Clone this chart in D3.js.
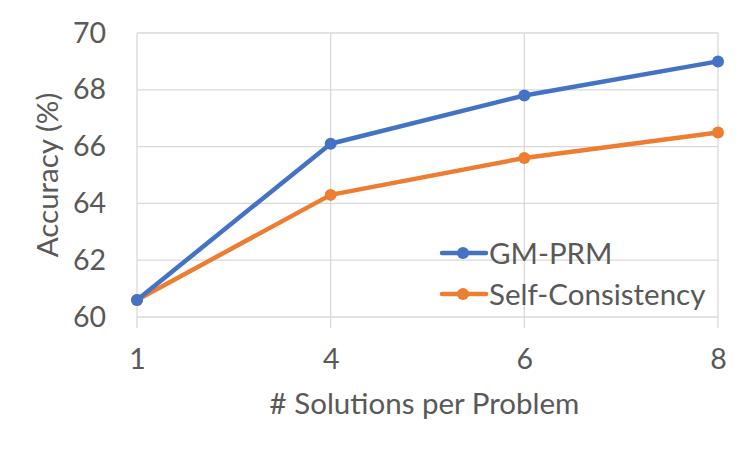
<!DOCTYPE html>
<html>
<head>
<meta charset="utf-8">
<script src="https://cdn.jsdelivr.net/npm/d3@7"></script>
<style>
  body { margin: 0; background: #fff; }
  text { font-family: Lato, "Open Sans", sans-serif; fill: #595959; }
</style>
</head>
<body>
<div id="chart"></div>
<script>
/***** data *****/
var categories = ["1", "4", "6", "8"];
var gmPrm = [60.6, 66.1, 67.8, 69.0];
var selfConsistency = [60.6, 64.3, 65.6, 66.5];
var yTicks = [60, 62, 64, 66, 68, 70];

var series = [
  {name: "GM-PRM", values: gmPrm, color: "#4472C4"},
  {name: "Self-Consistency", values: selfConsistency, color: "#ED7D31"}
];

//chart parameters
var width = 750;
var height = 454;
var margin = {top: 33, right: 32, bottom: 137, left: 137};
var innerW = width - margin.left - margin.right;
var innerH = height - margin.top - margin.bottom;

var svg = d3.select("#chart")
  .append("svg")
  .attr("width", width)
  .attr("height", height)
;

var g = svg.append("g")
  .attr("transform", "translate(" + margin.left + "," + margin.top + ")");

//scales
var x = d3.scalePoint()
  .domain(categories)
  .range([0, innerW])
;
var y = d3.scaleLinear()
  .domain([60, 70])
  .range([innerH, 0])
;

//gridlines
g.selectAll("line.hgrid")
  .data(yTicks)
  .enter().append("line")
  .attr("class", "hgrid")
  .attr("x1", 0).attr("x2", innerW)
  .attr("y1", function(d){ return y(d); })
  .attr("y2", function(d){ return y(d); })
  .attr("stroke", "#d9d9d9")
  .attr("stroke-width", 1.3)
;
g.selectAll("line.vgrid")
  .data(categories)
  .enter().append("line")
  .attr("class", "vgrid")
  .attr("x1", function(d){ return x(d); })
  .attr("x2", function(d){ return x(d); })
  .attr("y1", 0).attr("y2", innerH + 11)
  .attr("stroke", "#d9d9d9")
  .attr("stroke-width", 1.3)
;

//axes (labels only)
var yAxis = d3.axisLeft(y)
  .tickValues(yTicks)
  .tickSize(0)
  .tickPadding(31)
;
var xAxis = d3.axisBottom(x)
  .tickSize(0)
  .tickPadding(32)
;
g.append("g").attr("class", "y axis").call(yAxis);
g.append("g").attr("class", "x axis")
  .attr("transform", "translate(0," + innerH + ")")
  .call(xAxis);
svg.selectAll(".axis path.domain").remove();
svg.selectAll(".axis text")
  .style("font-size", "28.5px")
  .attr("fill", "#595959")
  .style("font-family", "Lato, 'Open Sans', sans-serif");

//axis titles
svg.append("text")
  .attr("x", margin.left + innerW / 2 - 3)
  .attr("y", 414)
  .attr("text-anchor", "middle")
  .style("font-size", "29.5px")
  .text("# Solutions per Problem");

svg.append("text")
  .attr("transform", "translate(58," + (margin.top + innerH / 2) + ") rotate(-90)")
  .attr("text-anchor", "middle")
  .style("font-size", "29.5px")
  .text("Accuracy (%)");

//lines
var line = d3.line()
  .x(function(d, i){ return x(categories[i]); })
  .y(function(d){ return y(d); })
;

var sg = g.selectAll("g.series")
  .data(series.slice().reverse())
  .enter().append("g")
  .attr("class", "series");

sg.append("path")
  .attr("d", function(d){ return line(d.values); })
  .attr("fill", "none")
  .attr("stroke", function(d){ return d.color; })
  .attr("stroke-width", 4.5)
  .attr("stroke-linejoin", "round");

sg.selectAll("circle")
  .data(function(d){ return d.values.map(function(v, i){ return {v: v, i: i, color: d.color}; }); })
  .enter().append("circle")
  .attr("cx", function(d){ return x(categories[d.i]); })
  .attr("cy", function(d){ return y(d.v); })
  .attr("r", 6)
  .attr("fill", function(d){ return d.color; });

//legend
var legend = svg.append("g")
  .attr("transform", "translate(442,253)");

var li = legend.selectAll("g")
  .data(series)
  .enter().append("g")
  .attr("transform", function(d, i){ return "translate(0," + (i * 41) + ")"; });

li.append("line")
  .attr("x1", 0).attr("x2", 44)
  .attr("stroke", function(d){ return d.color; })
  .attr("stroke-width", 4.5)
  .attr("stroke-linecap", "round");
li.append("circle")
  .attr("cx", 21).attr("r", 6)
  .attr("fill", function(d){ return d.color; });
li.append("text")
  .attr("x", 47)
  .attr("dy", "0.36em")
  .style("font-size", "29.5px")
  .text(function(d){ return d.name; });
</script>
</body>
</html>
